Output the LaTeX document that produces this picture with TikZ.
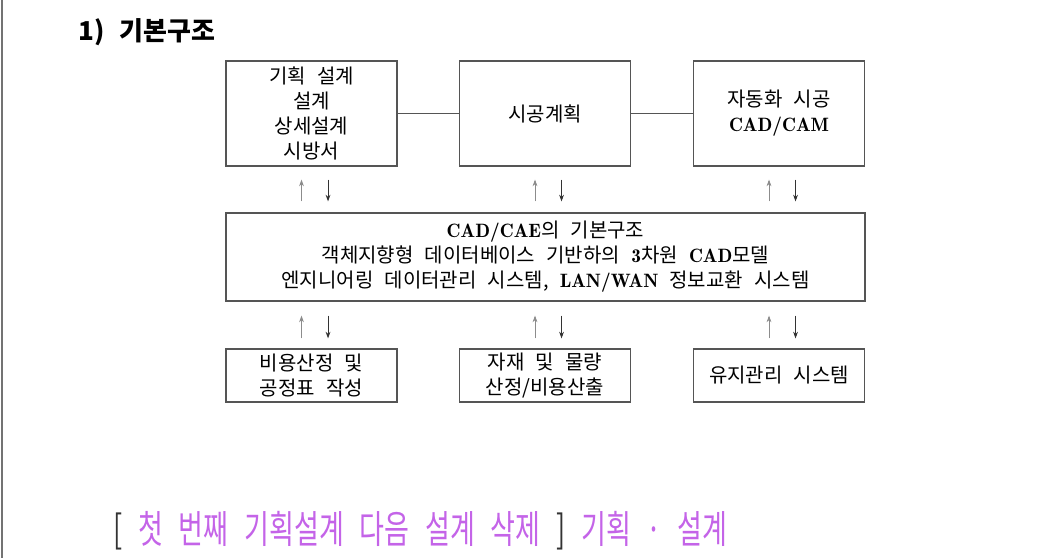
\documentclass[tikz,border=0pt]{standalone}
\usepackage{fontspec}
\usepackage{graphicx}
\usetikzlibrary{arrows.meta}
\newfontfamily\cjk[WordSpace=2.5]{Noto Sans CJK KR}
\newfontfamily\capf[FakeStretch=0.70,WordSpace=2.6]{Noto Sans CJK KR}
\newfontfamily\latdemi{lmromandemi10-regular.otf}
\newcommand\lat[1]{{\latdemi\fontsize{14.5}{18.75}\selectfont #1}}
\definecolor{capviolet}{RGB}{196,100,232}
\definecolor{boxline}{RGB}{85,85,85}
\tikzset{
  box/.style={draw=boxline, line width=0.9pt, minimum width=128.25pt, minimum height=78.75pt,
    inner sep=0pt, align=center, font=\fontsize{15}{18.75}\selectfont\cjk},
  smallbox/.style={box, minimum height=39.75pt},
  midbox/.style={box, minimum width=479.25pt, minimum height=66pt},
  link/.style={draw=boxline, line width=0.9pt},
  uparr/.style={draw=black!45, line width=0.7pt, -{Stealth[length=5pt,width=3.6pt,fill=black]}},
  dnarr/.style={draw=black!80, line width=0.7pt, -{Stealth[length=5pt,width=3.6pt,fill=black]}},
}
\begin{document}
\begin{tikzpicture}[x=0.75pt,y=-0.75pt]
\useasboundingbox (0,0) rectangle (1047,558);
\draw[black!55, line width=1.1pt] (2,0) -- (2,558);

\node[anchor=base west, inner sep=0pt, font=\fontsize{19.5}{22}\selectfont\cjk\bfseries] (title) at (78,40) {1) 기본구조};

\node[box] (b1) at (311.5,113.5) {기획 설계\\설계\\상세설계\\시방서};
\node[box] (b2) at (545,113.5) {시공계획};
\node[box] (b3) at (779,113.5) {자동화 시공\\\lat{CAD/CAM}};
\draw[link] (b1.east) -- (b2.west);
\draw[link] (b2.east) -- (b3.west);

\node[midbox] (m) at (545.5,257) {\lat{CAD/CAE}의 기본구조\\객체지향형 데이터베이스 기반하의 \lat{3}차원 \lat{CAD}모델\\엔지니어링 데이터관리 시스템, \lat{LAN/WAN} 정보교환 시스템};

\node[smallbox] (c1) at (311.5,375.5) {비용산정 및\\공정표 작성};
\node[smallbox] (c2) at (545,375.5) {자재 및 물량\\산정/비용산출};
\node[smallbox] (c3) at (779,375.5) {유지관리 시스템};

\foreach \t/\b in {b1/c1, b2/c2, b3/c3}{
  \draw[uparr, shorten <=8.25pt, shorten >=9.75pt] ([xshift=-7.5pt]\t.south |- m.north) -- ([xshift=-7.5pt]\t.south);
  \draw[dnarr, shorten <=9.75pt, shorten >=8.25pt] ([xshift=12.4pt]\t.south) -- ([xshift=12.4pt]\t.south |- m.north);
  \draw[uparr, shorten <=7.5pt, shorten >=10.5pt] ([xshift=-7.5pt]\b.north) -- ([xshift=-7.5pt]\b.north |- m.south);
  \draw[dnarr, shorten <=10.5pt, shorten >=7.5pt] ([xshift=12.4pt]\b.north |- m.south) -- ([xshift=12.4pt]\b.north);
}

\node[anchor=base west, inner sep=0pt, font=\fontsize{29}{32}\selectfont\capf, text=capviolet] (cap) at (113,543)
  {{\color{black!80}[} 첫 번째 기획설계 다음 설계 삭제 {\color{black!80}]} 기획 · 설계};
\end{tikzpicture}
\end{document}
